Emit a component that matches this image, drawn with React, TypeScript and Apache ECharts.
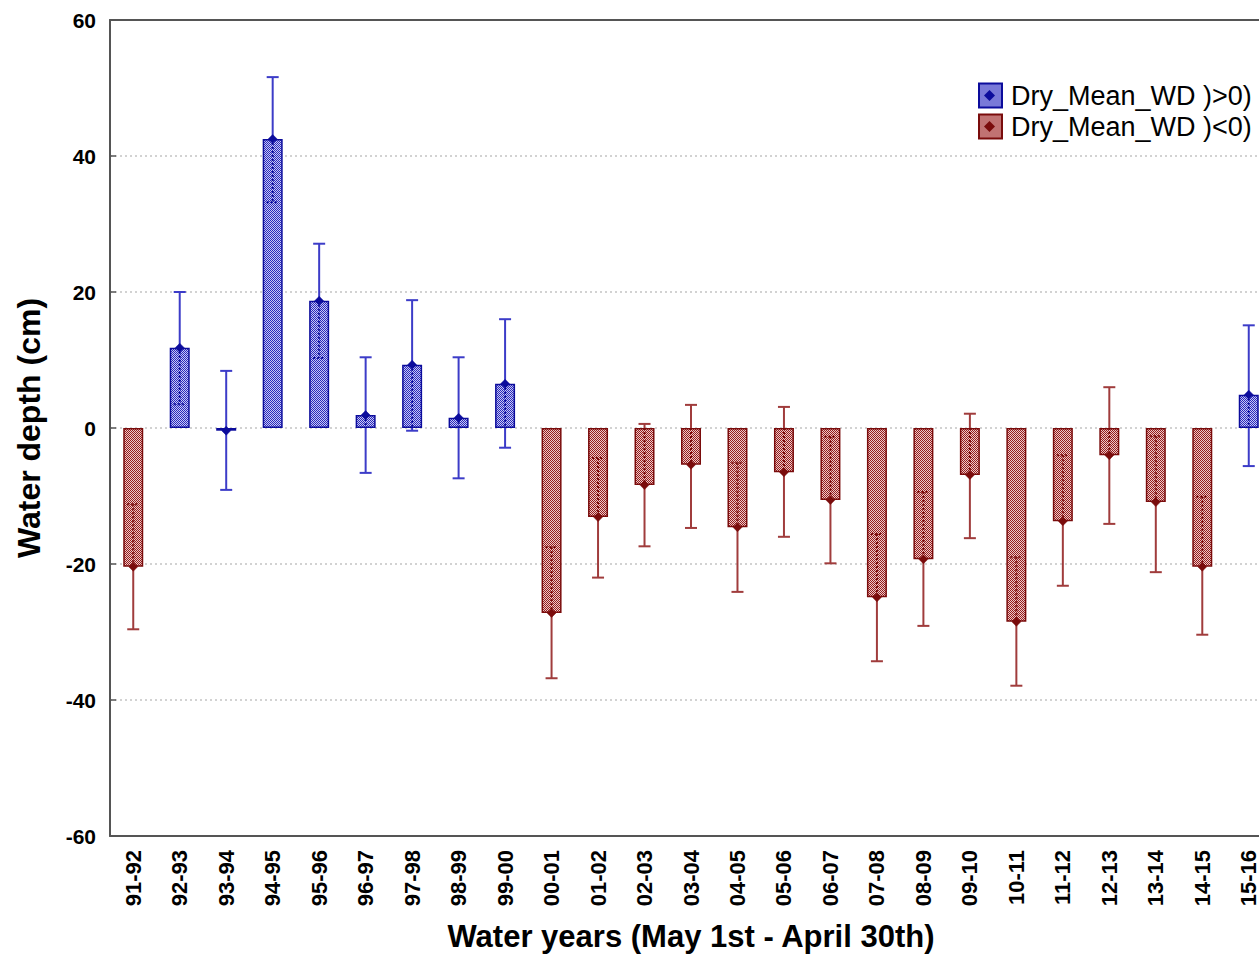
import React, { useEffect, useRef } from "react";
import * as echarts from "echarts";

// Water years on the category axis
const years = [
  "91-92", "92-93", "93-94", "94-95", "95-96", "96-97", "97-98", "98-99", "99-00",
  "00-01", "01-02", "02-03", "03-04", "04-05", "05-06", "06-07", "07-08", "08-09",
  "09-10", "10-11", "11-12", "12-13", "13-14", "14-15", "15-16",
];

// Mean dry-season water depth (cm)
const meanDepth = [
  -20.4, 11.8, -0.4, 42.5, 18.7, 1.9, 9.3, 1.5, 6.5,
  -27.2, -13.1, -8.4, -5.4, -14.6, -6.5, -10.6, -24.9, -19.3,
  -6.9, -28.5, -13.7, -4.0, -10.9, -20.4, 4.9,
];

// Lower / upper ends of the whiskers (cm)
const whiskerLow = [
  -29.6, 3.5, -9.1, 33.2, 10.3, -6.6, -0.4, -7.4, -2.9,
  -36.8, -22.0, -17.4, -14.7, -24.1, -16.0, -19.9, -34.3, -29.1,
  -16.2, -37.9, -23.2, -14.1, -21.2, -30.4, -5.6,
];
const whiskerHigh = [
  -11.2, 20.0, 8.4, 51.6, 27.1, 10.4, 18.8, 10.4, 16.0,
  -17.5, -4.4, 0.6, 3.4, -5.1, 3.1, -1.3, -15.6, -9.4,
  2.1, -19.0, -4.0, 6.0, -1.2, -10.1, 15.1,
];

// Which group each year belongs to: 1 = wet (>0), 0 = dry (<0)
const positiveGroup = [
  0, 1, 1, 1, 1, 1, 1, 1, 1,
  0, 0, 0, 0, 0, 0, 0, 0, 0,
  0, 0, 0, 0, 0, 0, 1,
];

const seriesNames = ["Dry_Mean_WD )>0)", "Dry_Mean_WD )<0)"];
const yTicks = { min: -60, max: 60, interval: 20 };

const palette = {
  pos: { dark: "#0c0c9c", light: "#c8c8f4", base: "#2a2abc", whisker: "#3c3cc8" },
  neg: { dark: "#7a0c0c", light: "#eccaca", base: "#951c1c", whisker: "#a03c3c" },
};

function makeTile(base: string, light: string): HTMLCanvasElement {
  const c = document.createElement("canvas");
  c.width = 2;
  c.height = 2;
  const ctx = c.getContext("2d")!;
  ctx.fillStyle = base;
  ctx.fillRect(0, 0, 2, 2);
  ctx.fillStyle = light;
  ctx.fillRect(1, 0, 1, 1);
  ctx.fillRect(0, 1, 1, 1);
  return c;
}

export default function App() {
  const ref = useRef<HTMLDivElement>(null);

  useEffect(() => {
    if (!ref.current) return;
    const chart = echarts.init(ref.current, undefined, { renderer: "svg" });

    const posFill = { image: makeTile(palette.pos.base, palette.pos.light), repeat: "repeat" };
    const negFill = { image: makeTile(palette.neg.base, palette.neg.light), repeat: "repeat" };

    const posData = meanDepth.map((v, i) => (positiveGroup[i] ? v : "-"));
    const negData = meanDepth.map((v, i) => (positiveGroup[i] ? "-" : v));
    const whiskerData = meanDepth.map((m, i) => [i, whiskerLow[i], whiskerHigh[i], m, positiveGroup[i]]);

    const renderWhisker = (params: any, api: any) => {
      const idx = api.value(0);
      const low = api.value(1);
      const high = api.value(2);
      const mean = api.value(3);
      const pos = api.value(4) === 1;
      const col = pos ? palette.pos : palette.neg;
      const x = api.coord([idx, 0])[0];
      const y0 = api.coord([idx, 0])[1];
      const yM = api.coord([idx, mean])[1];
      const yHi = api.coord([idx, high])[1];
      const yLo = api.coord([idx, low])[1];
      const barTop = Math.min(y0, yM);
      const barBot = Math.max(y0, yM);
      const children: any[] = [];
      const solid = { stroke: col.whisker, lineWidth: 2 };
      const dotted = { stroke: col.dark, lineWidth: 2, lineDash: [2, 2] };
      const seg = (a: number, b: number, style: any) => {
        if (b - a > 0.5) {
          children.push({ type: "line", shape: { x1: x, y1: a, x2: x, y2: b }, style });
        }
      };
      // part above the bar, inside the bar, below the bar
      seg(yHi, Math.min(yLo, barTop), solid);
      seg(Math.max(yHi, barTop), Math.min(yLo, barBot), dotted);
      seg(Math.max(yHi, barBot), yLo, solid);
      const capHalf = 6;
      [yHi, yLo].forEach((yy) => {
        const inside = yy > barTop + 0.5 && yy < barBot - 0.5;
        children.push({
          type: "line",
          shape: { x1: x - capHalf, y1: yy, x2: x + capHalf, y2: yy },
          style: inside ? dotted : solid,
        });
      });
      const d = 4.5;
      children.push({
        type: "polygon",
        shape: { points: [[x, yM - d], [x + d, yM], [x, yM + d], [x - d, yM]] },
        style: { fill: col.dark, stroke: col.dark, lineWidth: 0.5 },
      });
      return { type: "group", children };
    };

    const axisFont = {
      fontFamily: "Liberation Sans, Arial, sans-serif",
      fontWeight: "bold" as const,
      color: "#000",
    };

    const categoryAxis = (position: "top" | "bottom") => ({
      type: "category",
      data: years,
      position,
      axisLine: { onZero: false, lineStyle: { color: "#555", width: 2 } },
      axisTick: { inside: true, length: 6, alignWithLabel: true, lineStyle: { color: "#555", width: 1.5 } },
    });

    chart.setOption({
      animation: false,
      backgroundColor: "#ffffff",
      grid: {
        left: 110,
        top: 20,
        width: 1162,
        height: 816,
        containLabel: false,
        outerBoundsMode: "none",
      },
      legend: {
        orient: "vertical",
        left: 978,
        top: 82,
        padding: 0,
        itemWidth: 23,
        itemHeight: 24,
        itemGap: 4,
        icon: "rect",
        textStyle: {
          fontFamily: "Liberation Sans, Arial, sans-serif",
          fontSize: 27,
          color: "#000",
          padding: [0, 0, 0, 4],
        },
        data: seriesNames,
      },
      xAxis: [
        {
          ...categoryAxis("bottom"),
          axisLabel: { ...axisFont, fontSize: 22, rotate: 90, margin: 14, interval: 0 },
          name: "Water years (May 1st - April 30th)",
          nameLocation: "middle",
          nameGap: 85,
          nameTextStyle: { ...axisFont, fontSize: 31 },
        },
        {
          ...categoryAxis("top"),
          axisLabel: { show: false },
        },
      ],
      yAxis: {
        type: "value",
        min: yTicks.min,
        max: yTicks.max,
        interval: yTicks.interval,
        axisLine: { show: true, onZero: false, lineStyle: { color: "#555", width: 2 } },
        axisTick: { show: true, inside: true, length: 6, lineStyle: { color: "#555", width: 1.5 } },
        axisLabel: { ...axisFont, fontSize: 21, margin: 14 },
        splitLine: { show: true, lineStyle: { color: "#c4c4c4", type: [2, 3], width: 1.5 } },
        name: "Water depth (cm)",
        nameLocation: "middle",
        nameRotate: 90,
        nameGap: 65,
        nameTextStyle: { ...axisFont, fontSize: 32 },
      },
      series: [
        {
          name: seriesNames[0],
          type: "bar",
          data: posData,
          barWidth: 20,
          barGap: "-100%",
          itemStyle: { color: posFill as any, borderColor: palette.pos.dark, borderWidth: 1.5 },
          z: 2,
        },
        {
          name: seriesNames[1],
          type: "bar",
          data: negData,
          barWidth: 20,
          barGap: "-100%",
          itemStyle: { color: negFill as any, borderColor: palette.neg.dark, borderWidth: 1.5 },
          z: 2,
        },
        {
          type: "custom",
          name: "whiskers",
          data: whiskerData,
          renderItem: renderWhisker,
          z: 5,
          silent: true,
        },
      ],
      graphic: [
        {
          type: "polygon",
          shape: { points: [[989.5, 90], [995, 95.5], [989.5, 101], [984, 95.5]] },
          style: { fill: palette.pos.dark },
          z: 100,
        },
        {
          type: "polygon",
          shape: { points: [[989.5, 121], [995, 126.5], [989.5, 132], [984, 126.5]] },
          style: { fill: palette.neg.dark },
          z: 100,
        },
      ],
    });

    return () => chart.dispose();
  }, []);

  return (
    <div
      style={{ position: "absolute", left: 0, top: 0, width: 1259, height: 956, overflow: "hidden" }}
    >
      <div ref={ref} style={{ width: 1300, height: 956 }} />
    </div>
  );
}
